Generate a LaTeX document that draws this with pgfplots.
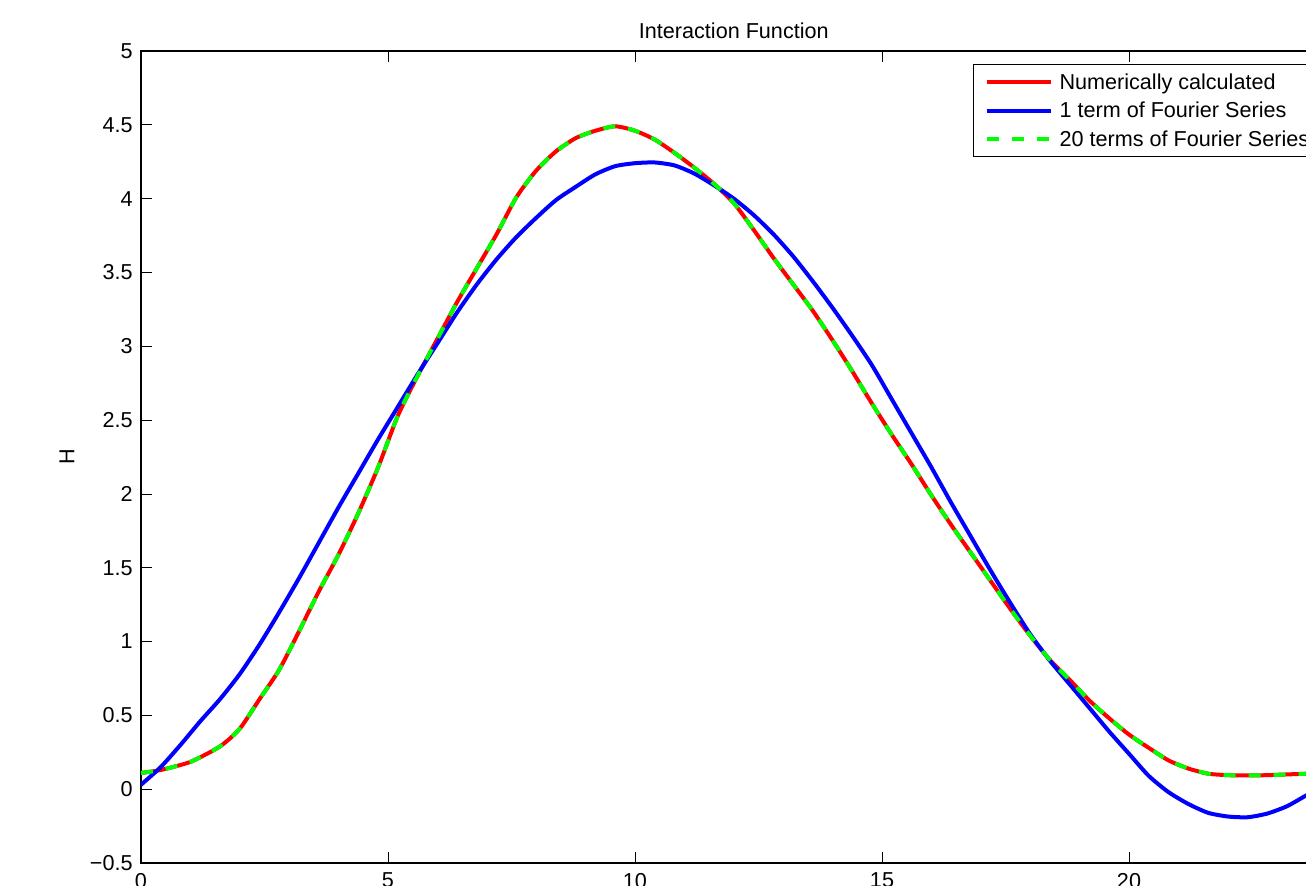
\documentclass[border=0pt]{standalone}
\usepackage{pgfplots}
\pgfplotsset{compat=1.18}
\usepackage{pgfplotstable}
\usepackage{fontspec}
\setmainfont{Liberation Sans}

\definecolor{mred}{rgb}{1,0,0}
\definecolor{mblue}{rgb}{0,0,1}
\definecolor{mgreen}{rgb}{0,1,0}

% numerically calculated H (the 20-term series lies on top of it)
\pgfplotstableread{
x y
0.0 0.11
0.4 0.13
1.0 0.185
1.6 0.29
2.0 0.41
2.4 0.61
2.8 0.81
3.2 1.07
3.6 1.34
4.0 1.59
4.4 1.87
4.8 2.18
5.2 2.53
5.6 2.80
6.0 3.05
6.4 3.30
6.8 3.53
7.2 3.76
7.6 4.01
8.0 4.19
8.4 4.32
8.8 4.41
9.2 4.46
9.6 4.49
10.0 4.46
10.4 4.40
10.8 4.31
11.2 4.21
11.6 4.10
12.0 3.97
12.4 3.79
12.8 3.60
13.2 3.42
13.6 3.24
14.0 3.04
14.4 2.83
14.8 2.61
15.2 2.40
15.6 2.20
16.0 1.99
16.4 1.79
16.8 1.60
17.2 1.41
17.6 1.22
18.0 1.04
18.4 0.875
18.8 0.74
19.2 0.60
19.6 0.48
20.0 0.37
20.4 0.28
20.8 0.195
21.2 0.14
21.6 0.105
22.0 0.095
22.4 0.093
22.8 0.095
23.2 0.10
23.6 0.105
24.0 0.11
}\numtab

% one term of the Fourier series
\pgfplotstableread{
x y
0.0 0.03
0.4 0.15
0.8 0.30
1.2 0.46
1.6 0.61
2.0 0.78
2.4 0.98
2.8 1.20
3.2 1.43
3.6 1.67
4.0 1.91
4.4 2.14
4.8 2.37
5.2 2.59
5.6 2.81
6.0 3.02
6.4 3.23
6.8 3.42
7.2 3.59
7.6 3.74
8.0 3.87
8.4 3.99
8.8 4.08
9.2 4.165
9.6 4.22
10.0 4.24
10.4 4.245
10.8 4.225
11.2 4.17
11.6 4.09
12.0 4.00
12.4 3.89
12.8 3.76
13.2 3.61
13.6 3.44
14.0 3.26
14.4 3.07
14.8 2.87
15.2 2.64
15.6 2.41
16.0 2.18
16.4 1.94
16.8 1.71
17.2 1.48
17.6 1.26
18.0 1.05
18.4 0.87
18.8 0.71
19.2 0.55
19.6 0.39
20.0 0.24
20.4 0.09
20.8 -0.02
21.2 -0.10
21.6 -0.16
22.0 -0.185
22.4 -0.19
22.8 -0.165
23.2 -0.115
23.6 -0.04
24.0 0.03
}\onetab

\begin{document}
\begin{tikzpicture}
\begin{axis}[
    at={(0,0)}, anchor=south west,
    scale only axis,
    width=592.8pt, height=406pt,
    xmin=0, xmax=24, ymin=-0.5, ymax=5,
    font=\fontsize{10.8}{13}\selectfont,
    /pgf/number format/assume math mode=true,
    axis line style={line width=0.6pt},
    tick align=inside,
    major tick length=5.5pt,
    tick style={black, line width=0.4pt},
    xtick={0,5,10,15,20},
    xticklabels={0,5,10,15,20},
    ytick={-0.5,0,0.5,1,1.5,2,2.5,3,3.5,4,4.5,5},
    yticklabels={−0.5,0,0.5,1,1.5,2,2.5,3,3.5,4,4.5,5},
    xticklabel style={yshift=-1.5pt},
    yticklabel style={xshift=-0.7pt},
    title={Interaction Function},
    title style={at={(axis description cs:0.5,1)}, anchor=south, yshift=-3.5pt},
    ylabel={H},
    ylabel style={at={(axis description cs:-0.0624,0.5)}, anchor=center},
    legend image code/.code={\draw[#1] (0pt,0pt) -- (32pt,0pt);},
    legend cell align=left,
    legend style={at={(rel axis cs:0.7018,0.984)}, anchor=north west,
        draw=black, line width=0.5pt, fill=white,
        inner xsep=5.5pt, inner ysep=1.7pt, row sep=0pt, column sep=2.5pt,
        nodes={inner sep=1pt, text height=9.7pt, text depth=2.5pt},
        font=\fontsize{10.8}{13}\selectfont},
]
\addplot[mred, line width=2pt, smooth, tension=0.4] table[x=x, y=y] {\numtab};
\addlegendentry{Numerically calculated}
\addplot[mblue, line width=2pt, smooth, tension=0.4] table[x=x, y=y] {\onetab};
\addlegendentry{1 term of Fourier Series}
\addplot[mgreen, line width=2pt, smooth, tension=0.4, dash pattern=on 6pt off 6.5pt] table[x=x, y=y] {\numtab};
\addlegendentry{20 terms of Fourier Series}
\end{axis}
\pgfresetboundingbox
\useasboundingbox (-70.5pt,-11pt) rectangle (582.5pt,431.5pt);
\end{tikzpicture}
\end{document}
